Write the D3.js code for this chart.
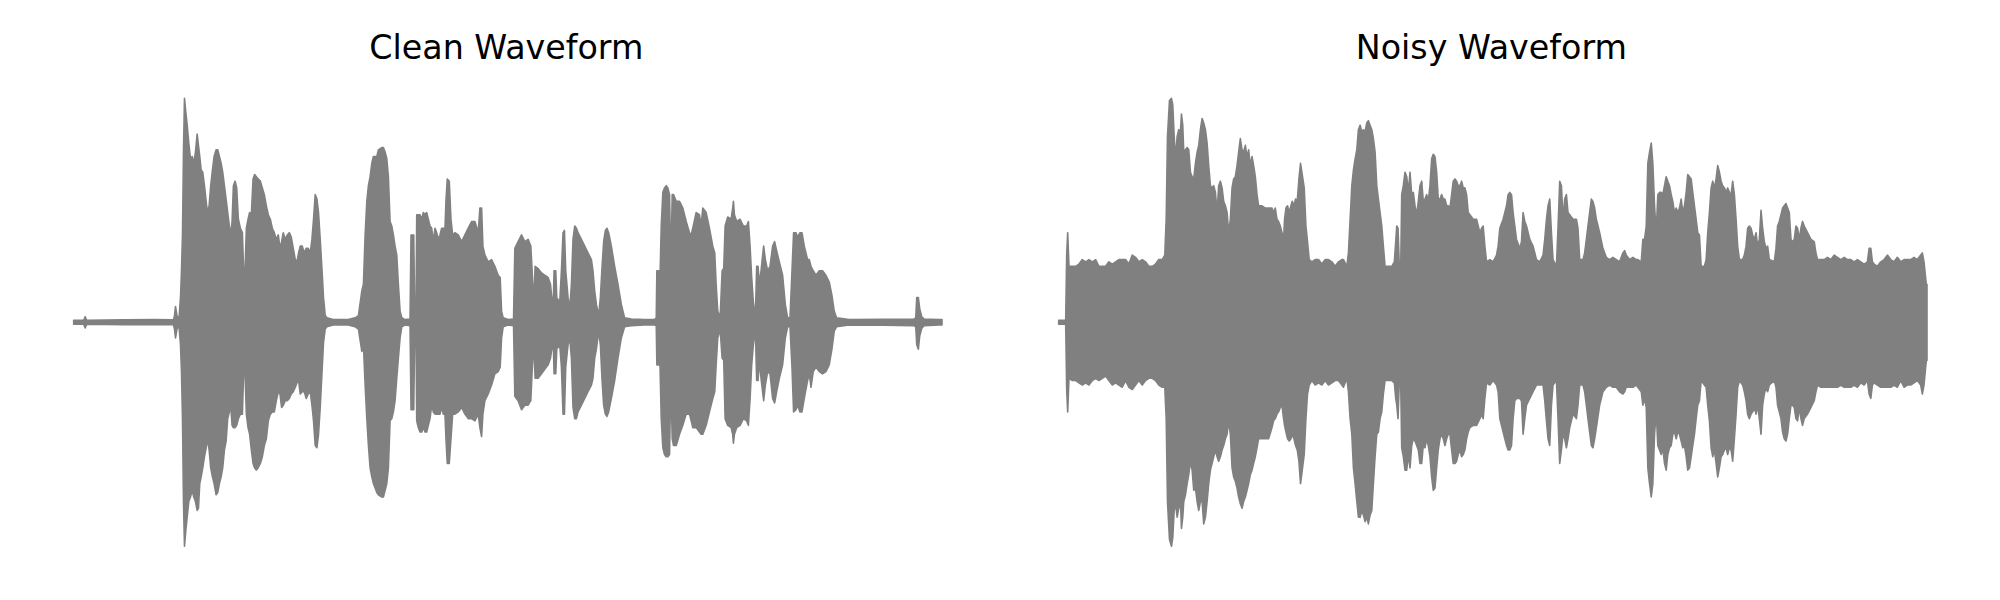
<!DOCTYPE html>
<html>
<head>
<meta charset="utf-8">
<script src="https://cdn.jsdelivr.net/npm/d3@7"></script>
<style>
  html, body { margin: 0; padding: 0; background: #fff; }
  svg { display: block; }
</style>
</head>
<body>
<script>
// ---- DATA (envelope of each waveform) ----
// time in seconds, amplitude normalised to full scale (+/-1)
const titles = ["Clean Waveform", "Noisy Waveform"];

const cleanTime = [
  0.000,0.100,0.115,0.130,0.500,0.800,1.000,1.010,1.020,1.035,
  1.055,1.070,1.080,1.090,1.100,1.110,1.123,1.137,1.153,1.170,
  1.187,1.203,1.220,1.237,1.250,1.263,1.277,1.293,1.310,1.327,
  1.340,1.357,1.373,1.390,1.407,1.427,1.443,1.460,1.477,1.493,
  1.510,1.527,1.543,1.560,1.573,1.587,1.600,1.617,1.633,1.650,
  1.670,1.690,1.703,1.717,1.730,1.747,1.763,1.780,1.797,1.813,
  1.830,1.847,1.870,1.890,1.910,1.930,1.950,1.970,1.990,2.010,
  2.030,2.050,2.067,2.083,2.100,2.120,2.140,2.160,2.180,2.200,
  2.220,2.237,2.253,2.270,2.290,2.310,2.330,2.350,2.370,2.387,
  2.403,2.420,2.437,2.453,2.470,2.487,2.503,2.520,2.537,2.600,
  2.750,2.820,2.853,2.887,2.903,2.920,2.937,2.953,2.970,2.987,
  3.003,3.037,3.053,3.087,3.103,3.120,3.137,3.153,3.170,3.187,
  3.203,3.220,3.237,3.253,3.270,3.287,3.320,3.370,3.380,3.407,
  3.417,3.430,3.437,3.453,3.470,3.487,3.503,3.520,3.537,3.553,
  3.570,3.587,3.603,3.620,3.637,3.653,3.670,3.687,3.703,3.720,
  3.730,3.743,3.763,3.780,3.797,3.820,3.853,3.887,3.920,3.953,
  3.987,4.020,4.053,4.070,4.087,4.100,4.120,4.153,4.187,4.220,
  4.253,4.273,4.287,4.303,4.353,4.407,4.420,4.453,4.487,4.520,
  4.553,4.580,4.593,4.610,4.623,4.653,4.687,4.720,4.753,4.777,
  4.790,4.807,4.813,4.830,4.840,4.870,4.887,4.903,4.917,4.930,
  4.953,4.970,4.987,5.003,5.020,5.037,5.053,5.087,5.120,5.153,
  5.187,5.203,5.220,5.237,5.260,5.277,5.293,5.310,5.327,5.343,
  5.360,5.387,5.420,5.453,5.487,5.520,5.587,5.720,5.820,5.837,
  5.843,5.863,5.873,5.887,5.903,5.920,5.937,5.953,5.970,5.983,
  5.997,6.010,6.037,6.070,6.103,6.137,6.170,6.187,6.203,6.237,
  6.270,6.287,6.303,6.337,6.370,6.403,6.423,6.437,6.453,6.477,
  6.497,6.513,6.527,6.553,6.587,6.603,6.610,6.620,6.643,6.677,
  6.710,6.743,6.760,6.777,6.793,6.810,6.830,6.843,6.857,6.870,
  6.887,6.913,6.930,6.953,6.977,7.003,7.023,7.043,7.070,7.103,
  7.130,7.153,7.177,7.197,7.213,7.237,7.253,7.277,7.297,7.320,
  7.353,7.370,7.387,7.410,7.437,7.470,7.503,7.537,7.570,7.597,
  7.620,7.643,7.770,8.103,8.420,8.437,8.447,8.463,8.477,8.497,
  8.520,8.670,8.700
];
const cleanUpper = [
  .009,.009,.025,.009,.011,.012,.011,.03,.07,.03,
  .015,.11,.23,.39,.76,1.00,.94,.88,.80,.73,
  .74,.71,.76,.84,.79,.74,.68,.67,.61,.54,
  .49,.52,.61,.68,.74,.77,.77,.74,.71,.67,
  .61,.55,.49,.43,.39,.45,.61,.63,.60,.46,
  .42,.40,.23,.23,.42,.46,.49,.48,.64,.66,
  .65,.64,.63,.60,.57,.52,.48,.46,.42,.40,
  .37,.39,.33,.36,.40,.37,.39,.40,.38,.33,
  .28,.27,.31,.34,.34,.31,.33,.33,.31,.37,
  .46,.57,.55,.49,.37,.24,.11,.03,.02,.012,
  .012,.02,.03,.14,.17,.39,.54,.61,.65,.71,
  .74,.74,.77,.78,.78,.76,.73,.65,.45,.43,
  .39,.34,.30,.17,.05,.02,.012,.015,.39,.39,
  .03,.05,.48,.48,.48,.46,.49,.48,.49,.46,
  .43,.42,.36,.42,.40,.37,.39,.42,.42,.42,
  .54,.64,.63,.46,.39,.40,.39,.36,.39,.42,
  .45,.45,.40,.51,.51,.34,.30,.27,.28,.25,
  .21,.20,.05,.02,.012,.015,.33,.36,.39,.36,
  .37,.34,.23,.08,.25,.24,.22,.21,.20,.17,
  .11,.11,.23,.23,.11,.09,.23,.40,.41,.23,
  .11,.06,.17,.37,.43,.42,.40,.37,.34,.31,
  .28,.23,.14,.08,.03,.11,.24,.36,.41,.42,
  .40,.34,.25,.17,.08,.02,.015,.012,.012,.02,
  .23,.23,.17,.43,.58,.60,.61,.60,.57,.24,
  .57,.57,.54,.54,.51,.45,.40,.39,.42,.49,
  .48,.43,.51,.49,.42,.34,.31,.17,.05,.02,
  .23,.24,.43,.47,.46,.51,.54,.48,.45,.46,
  .43,.43,.45,.34,.20,.09,.02,.25,.25,.17,
  .23,.34,.28,.23,.25,.34,.36,.32,.27,.21,
  .08,.02,.02,.23,.40,.40,.38,.40,.40,.34,
  .28,.28,.25,.23,.21,.23,.23,.21,.18,.12,
  .05,.02,.012,.013,.015,.02,.11,.11,.06,.025,
  .015,.012,.012
];
const cleanLower = [
  -.009,-.009,-.025,-.009,-.011,-.011,-.011,-.03,-.07,-.03,
  -.015,-.10,-.22,-.43,-.80,-1.00,-.93,-.87,-.80,-.78,
  -.75,-.78,-.80,-.84,-.83,-.72,-.69,-.65,-.60,-.56,
  -.52,-.57,-.65,-.69,-.72,-.77,-.76,-.72,-.69,-.65,
  -.57,-.53,-.43,-.40,-.37,-.46,-.47,-.47,-.46,-.43,
  -.41,-.41,-.22,-.23,-.41,-.47,-.50,-.57,-.63,-.65,
  -.66,-.65,-.63,-.60,-.55,-.52,-.44,-.41,-.40,-.40,
  -.35,-.31,-.32,-.38,-.37,-.35,-.35,-.34,-.32,-.31,
  -.29,-.27,-.26,-.32,-.31,-.31,-.34,-.32,-.31,-.37,
  -.44,-.55,-.56,-.50,-.38,-.23,-.09,-.03,-.02,-.012,
  -.012,-.02,-.03,-.13,-.10,-.28,-.43,-.55,-.65,-.69,
  -.72,-.76,-.77,-.78,-.78,-.75,-.72,-.65,-.44,-.43,
  -.40,-.35,-.25,-.16,-.07,-.02,-.012,-.015,-.39,-.39,
  -.03,-.05,-.44,-.47,-.49,-.49,-.47,-.49,-.49,-.46,
  -.43,-.37,-.40,-.41,-.41,-.41,-.41,-.38,-.41,-.41,
  -.52,-.63,-.63,-.52,-.41,-.41,-.40,-.38,-.41,-.43,
  -.43,-.44,-.41,-.47,-.51,-.41,-.35,-.32,-.28,-.23,
  -.22,-.20,-.07,-.02,-.012,-.015,-.33,-.35,-.39,-.37,
  -.37,-.35,-.22,-.09,-.25,-.25,-.23,-.21,-.19,-.16,
  -.12,-.12,-.23,-.23,-.12,-.10,-.20,-.41,-.41,-.20,
  -.10,-.07,-.16,-.38,-.43,-.43,-.40,-.37,-.34,-.31,
  -.28,-.25,-.16,-.12,-.04,-.10,-.25,-.37,-.41,-.42,
  -.40,-.34,-.26,-.16,-.07,-.02,-.015,-.012,-.012,-.015,
  -.19,-.19,-.16,-.43,-.56,-.59,-.60,-.60,-.59,-.25,
  -.52,-.55,-.55,-.50,-.46,-.41,-.41,-.44,-.47,-.47,
  -.49,-.50,-.50,-.46,-.40,-.34,-.31,-.19,-.07,-.03,
  -.16,-.17,-.43,-.46,-.47,-.50,-.54,-.50,-.47,-.46,
  -.43,-.44,-.46,-.34,-.19,-.10,-.03,-.26,-.26,-.17,
  -.25,-.35,-.28,-.22,-.23,-.34,-.36,-.31,-.25,-.19,
  -.07,-.02,-.02,-.20,-.40,-.39,-.37,-.40,-.40,-.34,
  -.26,-.23,-.29,-.22,-.20,-.22,-.23,-.22,-.19,-.12,
  -.04,-.02,-.012,-.013,-.015,-.02,-.10,-.12,-.06,-.027,
  -.015,-.012,-.012
];

const noisyTime = [
  0.000,0.070,0.080,0.090,0.103,0.137,0.170,0.203,0.237,0.270,
  0.303,0.337,0.370,0.403,0.437,0.470,0.503,0.537,0.570,0.603,
  0.637,0.670,0.703,0.737,0.770,0.803,0.837,0.870,0.903,0.937,
  0.970,1.003,1.037,1.063,1.077,1.090,1.110,1.130,1.143,1.157,
  1.170,1.187,1.203,1.220,1.230,1.243,1.253,1.270,1.287,1.303,
  1.320,1.337,1.353,1.370,1.387,1.403,1.420,1.437,1.453,1.470,
  1.487,1.503,1.520,1.537,1.553,1.570,1.587,1.603,1.620,1.637,
  1.653,1.670,1.687,1.703,1.720,1.737,1.753,1.770,1.787,1.803,
  1.820,1.837,1.853,1.870,1.887,1.903,1.920,1.937,1.953,1.970,
  1.987,2.003,2.037,2.070,2.103,2.137,2.153,2.170,2.187,2.203,
  2.220,2.237,2.253,2.263,2.277,2.293,2.310,2.327,2.340,2.357,
  2.373,2.390,2.407,2.423,2.443,2.460,2.477,2.493,2.510,2.537,
  2.570,2.603,2.637,2.670,2.703,2.737,2.770,2.803,2.837,2.853,
  2.887,2.903,2.920,2.937,2.953,2.970,2.987,3.003,3.020,3.037,
  3.053,3.070,3.087,3.103,3.120,3.137,3.153,3.170,3.187,3.203,
  3.220,3.237,3.253,3.270,3.303,3.337,3.363,3.377,3.387,3.400,
  3.413,3.427,3.437,3.453,3.470,3.487,3.503,3.520,3.537,3.553,
  3.570,3.587,3.603,3.620,3.637,3.653,3.670,3.687,3.703,3.720,
  3.737,3.753,3.770,3.787,3.803,3.820,3.837,3.853,3.870,3.887,
  3.903,3.920,3.937,3.953,3.970,3.987,4.003,4.020,4.037,4.053,
  4.070,4.087,4.103,4.120,4.153,4.187,4.220,4.237,4.253,4.270,
  4.287,4.320,4.353,4.387,4.403,4.420,4.453,4.487,4.503,4.520,
  4.537,4.553,4.570,4.587,4.620,4.637,4.653,4.670,4.687,4.720,
  4.753,4.787,4.820,4.853,4.870,4.887,4.903,4.920,4.937,4.953,
  4.987,5.003,5.020,5.037,5.053,5.070,5.087,5.103,5.120,5.153,
  5.187,5.203,5.220,5.253,5.270,5.287,5.303,5.320,5.337,5.353,
  5.370,5.387,5.420,5.453,5.487,5.520,5.553,5.587,5.620,5.653,
  5.670,5.687,5.720,5.753,5.787,5.803,5.837,5.853,5.870,5.887,
  5.903,5.920,5.937,5.953,5.970,5.987,6.003,6.020,6.037,6.053,
  6.070,6.087,6.103,6.120,6.137,6.153,6.170,6.187,6.203,6.220,
  6.237,6.253,6.270,6.287,6.303,6.320,6.337,6.353,6.370,6.387,
  6.403,6.420,6.437,6.470,6.487,6.503,6.520,6.537,6.553,6.570,
  6.587,6.603,6.620,6.637,6.653,6.670,6.687,6.703,6.720,6.737,
  6.753,6.770,6.787,6.803,6.820,6.853,6.870,6.887,6.903,6.920,
  6.937,6.953,6.970,6.987,7.003,7.020,7.037,7.053,7.070,7.087,
  7.103,7.120,7.170,7.187,7.203,7.220,7.237,7.253,7.270,7.287,
  7.303,7.320,7.337,7.353,7.370,7.387,7.403,7.420,7.437,7.453,
  7.470,7.503,7.537,7.570,7.587,7.603,7.637,7.670,7.703,7.737,
  7.770,7.803,7.837,7.870,7.903,7.937,7.970,8.003,8.037,8.070,
  8.103,8.120,8.137,8.153,8.170,8.203,8.237,8.270,8.303,8.337,
  8.370,8.403,8.437,8.470,8.503,8.537,8.570,8.603,8.637,8.653,
  8.670,8.693,8.700
];
const noisyUpper = [
  .009,.009,.30,.40,.25,.25,.25,.26,.28,.27,
  .28,.27,.28,.25,.25,.25,.27,.26,.27,.28,
  .28,.28,.26,.30,.29,.27,.28,.27,.25,.25,
  .26,.28,.28,.30,.46,.83,.99,1.00,.97,.83,
  .73,.83,.86,.85,.93,.88,.76,.77,.78,.77,
  .67,.65,.64,.71,.76,.79,.86,.91,.89,.86,
  .80,.70,.61,.60,.61,.58,.49,.61,.63,.60,
  .54,.52,.49,.40,.46,.60,.64,.65,.70,.76,
  .82,.77,.76,.79,.74,.77,.70,.74,.70,.65,
  .57,.52,.52,.51,.51,.51,.49,.51,.46,.45,
  .43,.40,.37,.46,.51,.52,.49,.52,.54,.52,
  .55,.54,.64,.71,.65,.60,.43,.36,.28,.27,
  .28,.28,.26,.28,.28,.27,.25,.27,.28,.28,
  .25,.31,.46,.61,.68,.73,.77,.86,.88,.85,
  .86,.85,.89,.90,.88,.86,.82,.76,.61,.55,
  .49,.43,.34,.25,.25,.25,.27,.36,.43,.42,
  .25,.25,.57,.61,.67,.65,.58,.67,.57,.58,
  .52,.48,.54,.61,.63,.54,.55,.57,.54,.61,
  .73,.75,.74,.67,.55,.55,.57,.55,.55,.52,
  .52,.51,.57,.63,.64,.63,.61,.61,.63,.60,
  .60,.57,.49,.48,.46,.46,.40,.42,.43,.34,
  .27,.28,.27,.30,.34,.42,.46,.52,.57,.58,
  .57,.49,.43,.37,.33,.36,.49,.45,.43,.37,
  .34,.28,.27,.30,.37,.46,.52,.55,.40,.28,
  .25,.42,.63,.61,.46,.55,.57,.49,.48,.46,
  .46,.42,.28,.28,.31,.37,.43,.49,.55,.54,
  .51,.46,.40,.33,.29,.28,.29,.28,.27,.31,
  .32,.30,.28,.29,.28,.28,.27,.37,.37,.43,
  .71,.76,.80,.71,.52,.40,.57,.58,.58,.57,
  .61,.65,.63,.61,.57,.54,.49,.51,.49,.51,
  .55,.49,.52,.58,.66,.65,.64,.58,.52,.46,
  .40,.39,.25,.25,.28,.40,.49,.60,.63,.60,
  .64,.70,.67,.63,.61,.60,.58,.60,.58,.57,
  .63,.57,.46,.34,.28,.28,.30,.34,.42,.43,
  .42,.39,.37,.40,.34,.37,.50,.42,.36,.33,
  .34,.28,.27,.33,.43,.45,.48,.51,.52,.53,
  .51,.49,.37,.36,.37,.43,.42,.37,.42,.45,
  .43,.40,.37,.36,.31,.28,.28,.28,.29,.28,
  .30,.29,.28,.29,.28,.28,.27,.28,.27,.26,
  .27,.33,.33,.27,.26,.25,.27,.28,.30,.28,
  .27,.29,.27,.28,.28,.28,.29,.28,.30,.31,
  .27,.17,.17
];
const noisyLower = [
  -.009,-.009,-.30,-.40,-.25,-.26,-.26,-.27,-.28,-.27,
  -.28,-.26,-.25,-.26,-.25,-.24,-.26,-.28,-.27,-.28,
  -.29,-.26,-.29,-.30,-.28,-.26,-.28,-.26,-.25,-.25,
  -.26,-.28,-.29,-.29,-.43,-.80,-.97,-1.00,-.96,-.84,
  -.81,-.87,-.83,-.80,-.92,-.87,-.80,-.77,-.72,-.68,
  -.62,-.66,-.75,-.74,-.80,-.84,-.80,-.80,-.90,-.87,
  -.80,-.72,-.66,-.63,-.60,-.57,-.60,-.62,-.60,-.57,
  -.55,-.52,-.50,-.44,-.50,-.65,-.69,-.71,-.74,-.78,
  -.81,-.83,-.80,-.78,-.75,-.72,-.68,-.66,-.63,-.60,
  -.56,-.52,-.52,-.52,-.52,-.47,-.44,-.43,-.41,-.40,
  -.38,-.37,-.43,-.46,-.49,-.52,-.53,-.52,-.50,-.52,
  -.55,-.57,-.62,-.72,-.65,-.59,-.43,-.32,-.28,-.26,
  -.28,-.27,-.28,-.26,-.28,-.27,-.26,-.26,-.28,-.29,
  -.25,-.31,-.43,-.50,-.65,-.72,-.80,-.87,-.87,-.84,
  -.86,-.89,-.87,-.90,-.86,-.84,-.72,-.60,-.50,-.49,
  -.43,-.40,-.32,-.26,-.26,-.26,-.27,-.34,-.37,-.43,
  -.26,-.28,-.56,-.60,-.66,-.66,-.59,-.65,-.55,-.52,
  -.53,-.55,-.57,-.63,-.63,-.55,-.56,-.52,-.55,-.60,
  -.69,-.75,-.74,-.65,-.57,-.52,-.50,-.52,-.55,-.52,
  -.50,-.50,-.57,-.63,-.63,-.62,-.59,-.57,-.60,-.59,
  -.57,-.52,-.49,-.47,-.46,-.46,-.43,-.41,-.43,-.34,
  -.27,-.28,-.26,-.28,-.31,-.43,-.49,-.55,-.57,-.57,
  -.55,-.43,-.35,-.34,-.34,-.35,-.50,-.43,-.37,-.34,
  -.31,-.28,-.28,-.28,-.35,-.44,-.52,-.55,-.37,-.28,
  -.26,-.43,-.63,-.57,-.50,-.52,-.56,-.52,-.47,-.41,
  -.43,-.37,-.28,-.28,-.31,-.37,-.43,-.49,-.55,-.56,
  -.52,-.47,-.37,-.31,-.29,-.28,-.29,-.29,-.31,-.32,
  -.31,-.29,-.29,-.29,-.28,-.29,-.31,-.37,-.34,-.38,
  -.65,-.72,-.78,-.72,-.50,-.40,-.55,-.57,-.59,-.56,
  -.63,-.66,-.59,-.56,-.55,-.50,-.49,-.52,-.49,-.50,
  -.53,-.56,-.55,-.60,-.66,-.65,-.60,-.55,-.50,-.43,
  -.37,-.35,-.26,-.28,-.29,-.37,-.44,-.56,-.60,-.57,
  -.63,-.69,-.65,-.60,-.59,-.57,-.56,-.59,-.56,-.57,
  -.62,-.52,-.41,-.29,-.26,-.28,-.31,-.35,-.41,-.43,
  -.41,-.40,-.38,-.41,-.37,-.43,-.50,-.37,-.32,-.29,
  -.31,-.28,-.26,-.29,-.37,-.40,-.43,-.49,-.52,-.53,
  -.50,-.43,-.37,-.37,-.38,-.43,-.44,-.38,-.43,-.46,
  -.43,-.41,-.38,-.35,-.31,-.28,-.29,-.29,-.29,-.29,
  -.29,-.29,-.28,-.29,-.29,-.29,-.28,-.29,-.27,-.28,
  -.26,-.32,-.34,-.28,-.27,-.28,-.29,-.29,-.29,-.29,
  -.28,-.29,-.26,-.29,-.28,-.28,-.27,-.26,-.28,-.32,
  -.28,-.17,-.17
];

// ---- LAYOUT ----
const W = 2000, H = 600;
const duration = 8.70;
const yMid = 322.3, yHalf = 224;
const panels = [
  { title: titles[0], time: cleanTime, upper: cleanUpper, lower: cleanLower, left: 73.7, right: 942 },
  { title: titles[1], time: noisyTime, upper: noisyUpper, lower: noisyLower, left: 1058.7, right: 1927 }
];

const svg = d3.select("body").append("svg")
  .attr("width", W).attr("height", H)
  .attr("viewBox", `0 0 ${W} ${H}`);
svg.append("rect").attr("width", W).attr("height", H).attr("fill", "#ffffff");

const y = d3.scaleLinear().domain([-1, 1]).range([yMid + yHalf, yMid - yHalf]);

panels.forEach(p => {
  const x = d3.scaleLinear().domain([0, duration]).range([p.left, p.right]);
  const n = Math.min(p.time.length, p.upper.length, p.lower.length);
  const rows = d3.range(n).map(i => ({ t: p.time[i], hi: p.upper[i], lo: p.lower[i] }));

  const area = d3.area()
    .x(d => x(d.t))
    .y0(d => y(d.lo))
    .y1(d => y(d.hi))
    .curve(d3.curveLinear);

  const g = svg.append("g");
  g.append("path")
    .datum(rows)
    .attr("d", area)
    .attr("fill", "#808080")
    .attr("stroke", "#808080")
    .attr("stroke-width", 1.6)
    .attr("stroke-linejoin", "round");

  g.append("text")
    .attr("x", (p.left + p.right) / 2 - 1.5)
    .attr("y", 59)
    .attr("text-anchor", "middle")
    .attr("font-family", "DejaVu Sans, sans-serif")
    .attr("font-size", 33.3)
    .attr("fill", "#000")
    .text(p.title);
});
</script>
</body>
</html>
